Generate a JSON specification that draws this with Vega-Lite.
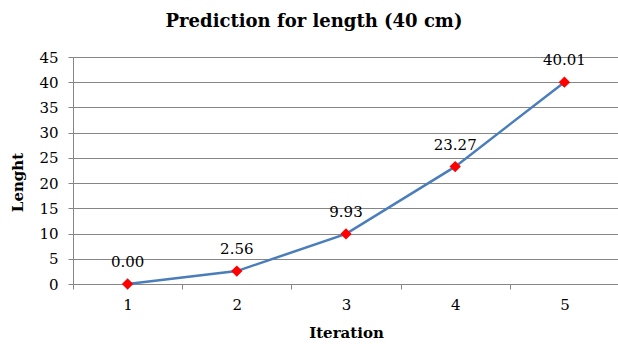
{
  "$schema": "https://vega.github.io/schema/vega-lite/v6.json",
  "width": 546,
  "height": 227,
  "autosize": "none",
  "padding": {"left": 73, "top": 57, "right": 0, "bottom": 60},
  "background": "white",
  "title": {
    "text": "Prediction for length (40 cm)",
    "font": "DejaVu Serif",
    "fontSize": 18,
    "fontWeight": "bold",
    "color": "black",
    "anchor": "middle",
    "dx": -32,
    "offset": 19
  },
  "config": {
    "view": {"stroke": null},
    "font": "DejaVu Serif"
  },
  "data": {
    "values": [
      {"iteration": "1", "length": 0.00, "label": "0.00"},
      {"iteration": "2", "length": 2.56, "label": "2.56"},
      {"iteration": "3", "length": 9.93, "label": "9.93"},
      {"iteration": "4", "length": 23.27, "label": "23.27"},
      {"iteration": "5", "length": 40.01, "label": "40.01"}
    ]
  },
  "encoding": {
    "x": {
      "field": "iteration",
      "type": "ordinal",
      "scale": {"type": "band", "paddingInner": 0, "paddingOuter": 0},
      "axis": {
        "title": "Iteration",
        "titleFont": "DejaVu Serif",
        "titleFontSize": 15,
        "titleFontWeight": "bold",
        "titleColor": "black",
        "titlePadding": 13,
        "labelAngle": 0,
        "labelFont": "DejaVu Serif",
        "labelFontSize": 15,
        "labelColor": "black",
        "labelPadding": 8,
        "tickBand": "extent",
        "tickSize": 5,
        "tickColor": "#868686",
        "domainColor": "#868686",
        "grid": false
      }
    },
    "y": {
      "field": "length",
      "type": "quantitative",
      "scale": {"domain": [0, 45], "nice": false},
      "axis": {
        "title": "Lenght",
        "titleFont": "DejaVu Serif",
        "titleFontSize": 15,
        "titleFontWeight": "bold",
        "titleColor": "black",
        "titleX": -56,
        "titleY": 125,
        "titleAngle": -90,
        "titleAlign": "center",
        "titleBaseline": "middle",
        "values": [0, 5, 10, 15, 20, 25, 30, 35, 40, 45],
        "labelFont": "DejaVu Serif",
        "labelFontSize": 15,
        "labelColor": "black",
        "labelPadding": 10,
        "tickSize": 5,
        "tickColor": "#868686",
        "domainColor": "#868686",
        "gridColor": "#868686",
        "gridOpacity": 1
      }
    }
  },
  "layer": [
    {
      "mark": {"type": "line", "color": "#4a7ebb", "strokeWidth": 2.5}
    },
    {
      "mark": {"type": "point", "shape": "diamond", "filled": true, "color": "#ff0000", "size": 130, "opacity": 1}
    },
    {
      "mark": {"type": "text", "font": "DejaVu Serif", "fontSize": 15, "color": "black", "dy": -22, "baseline": "middle"},
      "encoding": {"text": {"field": "label"}}
    }
  ]
}
